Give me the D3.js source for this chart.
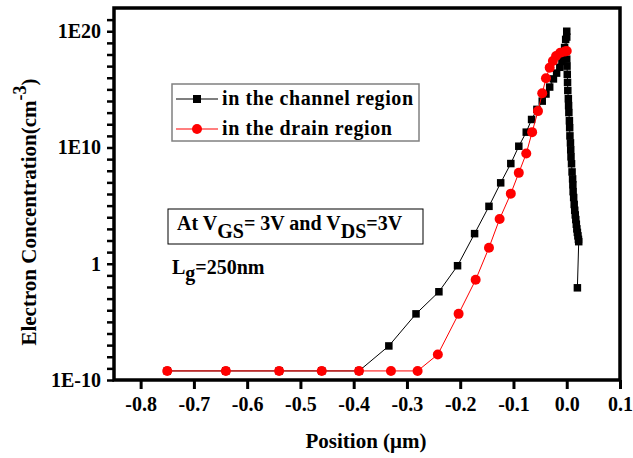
<!DOCTYPE html>
<html>
<head>
<meta charset="utf-8">
<script src="https://cdn.jsdelivr.net/npm/d3@7"></script>
<style>
  body { margin: 0; background: #fff; }
  text { font-family: "Liberation Serif", "Times New Roman", serif; font-weight: bold; }
</style>
</head>
<body>
<div id="chart"></div>
<script>
// position in um, concentration stored as log10(cm^-3)
const channelX = [-0.75, -0.64, -0.54, -0.46, -0.39, -0.334, -0.283, -0.240, -0.205, -0.173,
  -0.146, -0.124, -0.105, -0.090, -0.076, -0.066, -0.056, -0.046, -0.039, -0.032,
  -0.025, -0.019, -0.013, -0.009, -0.006, -0.004, -0.002, 0.000, 0.000, 0.000,
  0.0005, 0.001, 0.0015, 0.002, 0.003, 0.0035, 0.004, 0.005, 0.0055, 0.006,
  0.007, 0.0075, 0.008, 0.009, 0.010, 0.011, 0.0115, 0.012, 0.013, 0.014,
  0.015, 0.016, 0.017, 0.018, 0.019, 0.020, 0.021, 0.022, 0.0225, 0.020];
const channelLog = [-9.22, -9.22, -9.22, -9.22, -9.22, -7.07, -4.31, -2.41, -0.17, 2.59,
  4.94, 6.96, 8.62, 10.11, 11.32, 12.41, 13.28, 13.99, 14.6, 15.2,
  15.9, 16.4, 16.9, 17.4, 17.9, 18.6, 19.3, 20.0, 19.5, 17.6,
  17.0, 16.3, 15.6, 14.9, 14.2, 13.6, 13.0, 12.3, 11.7, 11.0,
  10.4, 9.8, 9.2, 8.6, 7.9, 7.3, 6.8, 6.2, 5.7, 5.1,
  4.6, 4.2, 3.8, 3.4, 3.0, 2.7, 2.4, 2.1, 1.9, -2.07];

const drainX = [-0.75, -0.64, -0.54, -0.46, -0.39, -0.33, -0.28, -0.242, -0.203, -0.171,
  -0.146, -0.126, -0.105, -0.090, -0.076, -0.065, -0.054, -0.046, -0.039, -0.032,
  -0.026, -0.020, -0.012, -0.004, 0.000];
const drainLog = [-9.22, -9.22, -9.22, -9.22, -9.22, -9.22, -9.22, -7.8, -4.31, -1.38,
  1.38, 3.85, 6.03, 7.82, 9.48, 11.32, 13.13, 14.66, 15.95, 16.87,
  17.44, 17.87, 18.16, 18.25, 18.3];

const xTicks = [-0.8, -0.7, -0.6, -0.5, -0.4, -0.3, -0.2, -0.1, 0.0, 0.1];
const yDecades = d3.range(-10, 22);
const yLabels = { "-10": "1E-10", "0": "1", "10": "1E10", "20": "1E20" };

const width = 633;
const height = 458;
const plot = { left: 114, right: 620, top: 8, bottom: 380 };

const svg = d3.select('#chart')
  .append('svg')
  .attr('width', width)
  .attr('height', height);

const x = d3.scaleLinear().domain([-0.85, 0.1]).range([plot.left, plot.right]);
const y = d3.scaleLog().domain([1e-10, 1e22]).range([plot.bottom, plot.top]);

const channel = channelX.map((v, i) => ({ x: v, y: Math.pow(10, channelLog[i]) }));
const drain = drainX.map((v, i) => ({ x: v, y: Math.pow(10, drainLog[i]) }));

// axes
const xAxis = svg.append('g')
  .attr('transform', `translate(0,${plot.bottom})`)
  .call(d3.axisBottom(x).tickValues(xTicks).tickSize(9).tickPadding(8)
    .tickFormat(d => d.toFixed(1)));
xAxis.select('.domain').remove();
xAxis.selectAll('line').attr('stroke', '#000').attr('stroke-width', 3);
xAxis.selectAll('text').attr('fill', '#000').style('font-size', '20px');

const yAxis = svg.append('g')
  .attr('transform', `translate(${plot.left},0)`)
  .call(d3.axisLeft(y).tickValues(yDecades.map(e => Math.pow(10, e))).tickSize(7).tickPadding(6)
    .tickFormat((d, i) => yLabels[yDecades[i]] || ''));
yAxis.select('.domain').remove();
yAxis.selectAll('line').attr('stroke', '#000').attr('stroke-width', 2.5);
yAxis.selectAll('text').attr('fill', '#000').style('font-size', '20px');

// frame
svg.append('rect')
  .attr('x', plot.left).attr('y', plot.top)
  .attr('width', plot.right - plot.left).attr('height', plot.bottom - plot.top)
  .attr('fill', 'none')
  .attr('stroke', '#000')
  .attr('stroke-width', 3.5);

const line = d3.line().x(d => x(d.x)).y(d => y(d.y));

// channel series
svg.append('path')
  .datum(channel)
  .attr('d', line)
  .attr('fill', 'none')
  .attr('stroke', '#000')
  .attr('stroke-width', 1);
svg.selectAll('.sq')
  .data(channel)
  .enter()
  .append('rect')
  .attr('x', d => x(d.x) - 3.75)
  .attr('y', d => y(d.y) - 3.75)
  .attr('width', 7.5)
  .attr('height', 7.5)
  .attr('fill', '#000');

// drain series
svg.append('path')
  .datum(drain)
  .attr('d', line)
  .attr('fill', 'none')
  .attr('stroke', '#ff0000')
  .attr('stroke-width', 1);
svg.selectAll('.dot')
  .data(drain)
  .enter()
  .append('circle')
  .attr('cx', d => x(d.x))
  .attr('cy', d => y(d.y))
  .attr('r', 5)
  .attr('fill', '#ff0000');

// legend
const legend = svg.append('g');
legend.append('rect')
  .attr('x', 172).attr('y', 84).attr('width', 247).attr('height', 57)
  .attr('fill', '#fff').attr('stroke', '#808080').attr('stroke-width', 1.5);
const legendItems = [
  { label: 'in the channel region', color: '#000', shape: 'square' },
  { label: 'in the drain region', color: '#ff0000', shape: 'circle' }
];
legendItems.forEach((d, i) => {
  const cy = 99 + i * 30;
  legend.append('line')
    .attr('x1', 176).attr('x2', 218).attr('y1', cy).attr('y2', cy)
    .attr('stroke', d.color).attr('stroke-width', 1.2);
  if (d.shape === 'square') {
    legend.append('rect').attr('x', 193).attr('y', cy - 4).attr('width', 8).attr('height', 8).attr('fill', d.color);
  } else {
    legend.append('circle').attr('cx', 197).attr('cy', cy).attr('r', 5).attr('fill', d.color);
  }
  legend.append('text')
    .attr('x', 222).attr('y', cy + 6)
    .style('font-size', '20px')
    .style('letter-spacing', '0.6px')
    .text(d.label);
});

// bias annotation
svg.append('rect')
  .attr('x', 168).attr('y', 209).attr('width', 255).attr('height', 35)
  .attr('fill', '#fff').attr('stroke', '#000').attr('stroke-width', 1);
const bias = svg.append('text').attr('x', 177).attr('y', 230).style('font-size', '20px');
bias.append('tspan').text('At V');
bias.append('tspan').attr('dy', 8).text('GS');
bias.append('tspan').attr('dy', -8).text('= 3V and V');
bias.append('tspan').attr('dy', 8).text('DS');
bias.append('tspan').attr('dy', -8).text('=3V');

const lg = svg.append('text').attr('x', 172).attr('y', 274).style('font-size', '20px');
lg.append('tspan').text('L');
lg.append('tspan').attr('dy', 6).text('g');
lg.append('tspan').attr('dy', -6).text('=250nm');

// axis titles
svg.append('text')
  .attr('x', 366).attr('y', 448)
  .attr('text-anchor', 'middle')
  .style('font-size', '21px')
  .text('Position (μm)');

const yTitle = svg.append('text')
  .attr('transform', 'translate(36,212) rotate(-90)')
  .attr('text-anchor', 'middle')
  .style('font-size', '21px');
yTitle.append('tspan').text('Electron Concentration(cm');
yTitle.append('tspan').attr('dy', -10).style('font-size', '18px').text('-3');
yTitle.append('tspan').attr('dy', 10).text(')');
</script>
</body>
</html>
